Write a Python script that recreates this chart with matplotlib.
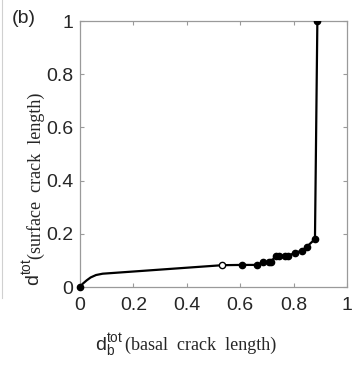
import matplotlib.pyplot as plt
import matplotlib.lines as mlines
import numpy as np

plt.rcParams['font.family'] = 'Liberation Sans'

# smooth start of the curve (no markers)
curve_x = [0.0, 0.01, 0.025, 0.04, 0.06, 0.085]
curve_y = [0.0, 0.012, 0.025, 0.036, 0.045, 0.05]

# marked points along the path
pts_x = [0.533, 0.605, 0.662, 0.687, 0.709, 0.714, 0.733, 0.745, 0.768, 0.78,
         0.805, 0.83, 0.849, 0.88, 0.889]
pts_y = [0.082, 0.083, 0.083, 0.093, 0.093, 0.093, 0.117, 0.117, 0.117, 0.117,
         0.129, 0.136, 0.151, 0.18, 1.0]

W, H = 353, 365
fig = plt.figure(figsize=(W / 100, H / 100), dpi=100)
ax = fig.add_axes([80 / W, 1 - 287 / H, 267 / W, 266 / H])

line_x = curve_x + pts_x
line_y = curve_y + pts_y
ax.plot(line_x, line_y, color='black', lw=1.6, zorder=2)
ax.plot(pts_x[1:], pts_y[1:], 'o', color='black', ms=4.5, zorder=3)
ax.plot(pts_x[0], pts_y[0], 'o', mfc='white', mec='black', mew=1.0, ms=4.5, zorder=3)
ax.plot(curve_x[0], curve_y[0], 'o', color='black', ms=4.5, zorder=3, clip_on=False)

ax.set_xlim(0, 1)
ax.set_ylim(0, 1)
ax.set_xticks([0, 0.2, 0.4, 0.6, 0.8, 1])
ax.set_yticks([0, 0.2, 0.4, 0.6, 0.8, 1])
ax.set_xticklabels(['0', '0.2', '0.4', '0.6', '0.8', '1'])
ax.set_yticklabels(['0', '0.2', '0.4', '0.6', '0.8', '1'])
gray = '#9a9a9a'
for s in ax.spines.values():
    s.set_color(gray)
    s.set_linewidth(0.9)
ax.tick_params(direction='in', length=3, width=0.8, color=gray, labelsize=14,
               labelcolor='#262626', top=True, right=True)
ax.tick_params(axis='x', pad=7)
ax.tick_params(axis='y', pad=5)

# labels
fig.text(95 / W, 1 - 350 / H, r'd$_\mathregular{b}^\mathregular{tot}$', fontsize=14,
         color='#262626', ha='left', va='baseline')
fig.text(125 / W, 1 - 350 / H, '(basal  crack  length)', fontsize=13,
         family='Liberation Serif', color='#262626', ha='left', va='baseline')
fig.text(40 / W, 1 - 286 / H, r'd$^\mathregular{tot}$', fontsize=14, rotation=90,
         color='#262626', ha='left', va='baseline', rotation_mode='anchor')
fig.text(41 / W, 1 - 259 / H, '(surface  crack  length)', fontsize=13, rotation=90,
         family='Liberation Serif', color='#262626', ha='left', va='baseline',
         rotation_mode='anchor')
fig.text(12 / W, 1 - 23 / H, '(b)', fontsize=14, color='#262626', ha='left', va='baseline')

# faint panel border on the left
fig.add_artist(mlines.Line2D([1.5 / W, 1.5 / W], [1, 1 - 298 / H], color='#d0d0d0', lw=0.8))

fig.savefig('out.png', dpi=100)
